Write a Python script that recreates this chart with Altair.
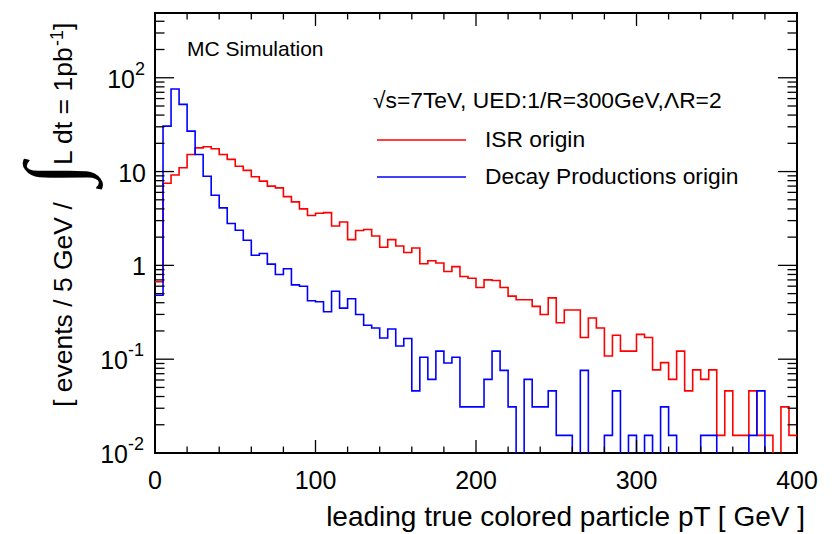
import altair as alt
import pandas as pd

# ---------------- data ----------------
bin_low_edges = [5 * i for i in range(80)]  # 0 .. 395 GeV, 5 GeV bins
x_max = 400

isr_origin = [
    0.67, 7.5, 9.2, 11.0, 15.2, 17.9, 18.4, 17.5, 15.2, 13.5,
    11.4, 10.3, 8.8, 7.9, 7.0, 6.7, 5.4, 4.75, 4.0, 3.4,
    3.6, 3.65, 2.63, 2.9, 1.88, 2.35, 2.41, 2.06, 1.56, 1.88,
    1.61, 1.37, 1.53, 1.04, 1.12, 1.06, 0.86, 0.97, 0.76, 0.73,
    0.58, 0.70, 0.69, 0.58, 0.47, 0.43, 0.43, 0.366, 0.30, 0.45,
    0.245, 0.334, 0.334, 0.17, 0.275, 0.215, 0.108, 0.18, 0.122, 0.122,
    0.184, 0.17, 0.077, 0.092, 0.061, 0.122, 0.046, 0.077, 0.061, 0.077,
    0.0154, 0.046, 0.0154, 0.0154, 0.046, 0.0154, 0.0154, 0.0, 0.031, 0.0154,
]
decay_origin = [
    0.48, 30.5, 76.0, 52.0, 27.0, 15.2, 8.9, 5.6, 4.1, 2.8,
    2.37, 1.85, 1.28, 1.34, 1.03, 0.80, 0.92, 0.62, 0.60, 0.42,
    0.41, 0.32, 0.53, 0.35, 0.44, 0.30, 0.23, 0.215, 0.168, 0.21,
    0.138, 0.166, 0.046, 0.105, 0.061, 0.122, 0.091, 0.105, 0.031, 0.031,
    0.031, 0.061, 0.122, 0.076, 0.031, 0.0, 0.061, 0.031, 0.031, 0.046,
    0.0154, 0.0154, 0.0, 0.076, 0.0, 0.0, 0.0154, 0.046, 0.0, 0.0154,
    0.0, 0.0154, 0.0, 0.031, 0.0154, 0.0, 0.0, 0.0, 0.0154, 0.0154,
    0.0, 0.0, 0.0, 0.0, 0.0154, 0.046, 0.0, 0.0, 0.0, 0.0,
]

x_major_ticks = [0, 100, 200, 300, 400]
x_minor_ticks = [20, 40, 60, 80, 120, 140, 160, 180, 220, 240, 260, 280,
                 320, 340, 360, 380]
x_tick_labels = ["0", "100", "200", "300", "400"]

y_major_ticks = [0.01, 0.1, 1, 10, 100]
y_minor_ticks = [m * d for d in [0.01, 0.1, 1, 10] for m in range(2, 10)] + [200, 300, 400]
y_label_base = ["10", "10", "1", "10", "10"]
y_label_exp = ["-2", "-1", "", "", "2"]

legend_header = "\u221as=7TeV, UED:1/R=300GeV,\u039bR=2"
legend_labels = ["ISR origin", "Decay Productions origin"]
legend_colors = ["#ff0000", "#0000ff"]

# ---------------- layout ----------------
W, H = 642, 440
FONT = "Liberation Sans"
xs = alt.Scale(domain=[0, x_max], nice=False, zero=False)
ys = alt.Scale(type="log", domain=[0.01, 490], nice=False)


def hist_layer(vals, color):
    df = pd.DataFrame({"pt": bin_low_edges + [x_max], "val": list(vals) + [vals[-1]]})
    return (
        alt.Chart(df)
        .transform_calculate(v="max(datum.val, 0.0005)")
        .mark_line(interpolate="step-after", clip=True, color=color, strokeWidth=1.6)
        .encode(x=alt.X("pt:Q", scale=xs, axis=None), y=alt.Y("v:Q", scale=ys, axis=None))
    )


def xticks(vals, length, top):
    df = pd.DataFrame({"t": vals})
    enc = dict(x=alt.X("t:Q", scale=xs, axis=None))
    if top:
        enc.update(y=alt.value(0), y2=alt.value(length))
    else:
        enc.update(y=alt.value(H), y2=alt.value(H - length))
    return alt.Chart(df).mark_rule(color="black", strokeWidth=1.3).encode(**enc)


def yticks(vals, length, right):
    df = pd.DataFrame({"t": vals})
    enc = dict(y=alt.Y("t:Q", scale=ys, axis=None))
    if right:
        enc.update(x=alt.value(W), x2=alt.value(W - length))
    else:
        enc.update(x=alt.value(0), x2=alt.value(length))
    return alt.Chart(df).mark_rule(color="black", strokeWidth=1.3).encode(**enc)


def text_at(txt, x, y, size, align="left", baseline="alphabetic", angle=0,
            color="black", weight="normal", font=FONT):
    return (
        alt.Chart(pd.DataFrame({"t": [txt]}))
        .mark_text(align=align, baseline=baseline, fontSize=size, font=font,
                   angle=angle, color=color, fontWeight=weight)
        .encode(text="t:N", x=alt.value(x), y=alt.value(y))
    )


layers = []
# histograms
layers.append(hist_layer(isr_origin, legend_colors[0]))
layers.append(hist_layer(decay_origin, legend_colors[1]))

# ticks on all four sides (inward)
layers += [
    xticks(x_major_ticks, 13, False), xticks(x_minor_ticks, 6.5, False),
    xticks(x_major_ticks, 13, True), xticks(x_minor_ticks, 6.5, True),
    yticks(y_major_ticks, 19, False), yticks(y_minor_ticks, 9.5, False),
    yticks(y_major_ticks, 19, True), yticks(y_minor_ticks, 9.5, True),
]

# x tick labels
xl = pd.DataFrame({"t": x_major_ticks, "lab": x_tick_labels})
layers.append(
    alt.Chart(xl).mark_text(align="center", baseline="alphabetic", fontSize=25, font=FONT)
    .encode(x=alt.X("t:Q", scale=xs, axis=None), y=alt.value(476), text="lab:N")
)

# y tick labels
yl = pd.DataFrame({"t": y_major_ticks, "base": y_label_base, "exp": y_label_exp})


def ylab(filter_expr, base_x):
    src = alt.Chart(yl).transform_filter(filter_expr)
    base = src.mark_text(align="right", baseline="middle", fontSize=25, font=FONT, dy=2).encode(
        y=alt.Y("t:Q", scale=ys, axis=None), x=alt.value(base_x), text="base:N")
    exp = src.mark_text(align="left", baseline="middle", fontSize=18, font=FONT, dy=-8).encode(
        y=alt.Y("t:Q", scale=ys, axis=None), x=alt.value(base_x), text="exp:N")
    return [base, exp]


layers += ylab("datum.exp == ''", -9)
layers += ylab("length(datum.exp) == 1", -20)
layers += ylab("length(datum.exp) == 2", -27)

# axis titles
layers.append(text_at("leading true colored particle pT [ GeV ]", 650, 513, 28, align="right"))
layers.append(text_at("[ events / 5 GeV /", -83, 394, 26.5, angle=270))
layers.append(text_at("\u222b", -99, 161, 82, align="center", baseline="middle", angle=270,
                      font="Liberation Serif"))
layers.append(text_at("L dt = 1pb", -83, 152, 26.5, angle=270))
layers.append(text_at("-1", -92, 33, 18, angle=270))
layers.append(text_at(" ]", -83, 17, 26.5, angle=270))

# annotations / legend
layers.append(text_at("MC Simulation", 32, 43, 21))
layers.append(text_at(legend_header, 218, 95, 22.8))
for i, (lab, col) in enumerate(zip(legend_labels, legend_colors)):
    ly = 127 + 37 * i
    layers.append(
        alt.Chart(pd.DataFrame({"a": [0]})).mark_rule(color=col, strokeWidth=1.3)
        .encode(x=alt.value(222), x2=alt.value(311), y=alt.value(ly))
    )
    layers.append(text_at(lab, 330, ly + 7, 22.8))

chart = (
    alt.layer(*layers)
    .properties(
        width=W, height=H,
        padding={"left": 155, "top": 13, "right": 42, "bottom": 81},
        autosize=alt.AutoSizeParams(type="none"),
    )
    .configure_view(stroke="black", strokeWidth=2)
)

chart.save("out.html", embed_options={"renderer": "svg", "actions": False})
